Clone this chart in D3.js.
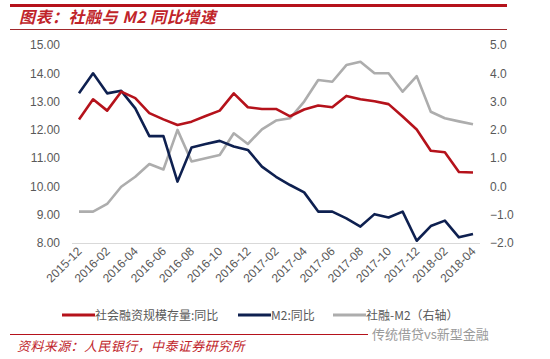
<!DOCTYPE html>
<html><head><meta charset="utf-8">
<script src="https://cdn.jsdelivr.net/npm/d3@7/dist/d3.min.js"></script>
<style>
body{margin:0;background:#fff;}
svg{display:block;}
</style></head>
<body>
<svg id="c" width="550" height="359"></svg>
<script>
const months = ["2015-12","2016-01","2016-02","2016-03","2016-04","2016-05","2016-06","2016-07","2016-08","2016-09","2016-10","2016-11","2016-12",
"2017-01","2017-02","2017-03","2017-04","2017-05","2017-06","2017-07","2017-08","2017-09","2017-10","2017-11","2017-12",
"2018-01","2018-02","2018-03","2018-04"];
const tsfGrowth = [12.37,13.08,12.68,13.35,13.12,12.59,12.37,12.17,12.29,12.49,12.68,13.29,12.80,
12.74,12.74,12.48,12.72,12.86,12.80,13.20,13.08,13.01,12.91,12.47,12.01,11.26,11.21,10.51,10.49];
const m2Growth = [13.29,14.00,13.29,13.38,12.76,11.78,11.78,10.17,11.38,11.50,11.61,11.41,11.29,
10.70,10.34,10.05,9.79,9.11,9.11,8.87,8.58,9.02,8.90,9.11,8.08,8.60,8.79,8.20,8.32];
const spread = [-0.89,-0.89,-0.62,-0.01,0.34,0.79,0.60,2.00,0.88,1.00,1.11,1.88,1.50,
2.02,2.33,2.41,3.00,3.76,3.70,4.29,4.41,4.00,4.00,3.35,3.90,2.64,2.41,2.30,2.20];
const leftTicks = [8,9,10,11,12,13,14,15];
const rightTicks = [-2,-1,0,1,2,3,4,5];
const xTickLabels = months.filter((m,i)=>i%2===0);
const seriesNames = ["社会融资规模存量:同比","M2:同比","社融-M2（右轴）"];
const colors = ["#B5121B","#0E2050","#ADADAD"];

const svg = d3.select("#c");
const numFont = "'Liberation Sans', Arial, sans-serif";
const cjk = "'Noto Sans CJK SC', sans-serif";

// header
svg.append("rect").attr("x",10).attr("y",4).attr("width",497).attr("height",3).attr("fill","#B5121B");
svg.append("text").attr("x",19).attr("y",23).text("图表：社融与 M2 同比增速")
  .attr("font-family",cjk).attr("font-size",16).attr("font-weight","bold").attr("font-style","italic")
  .attr("letter-spacing",0.5).attr("fill","#C0242A");
svg.append("line").attr("x1",10).attr("x2",507).attr("y1",29.5).attr("y2",29.5).attr("stroke","#A0282C").attr("stroke-width",1);

const x = d3.scalePoint().domain(months).range([79,473]);
const yL = d3.scaleLinear().domain([8,15]).range([243,45]);
const yR = d3.scaleLinear().domain([-2,5]).range([243,45]);

// baseline
svg.append("line").attr("x1",72).attr("x2",480).attr("y1",yL(8)+0.5).attr("y2",yL(8)+0.5).attr("stroke","#D9D9D9");

const axL = svg.append("g").attr("transform","translate(66,0)")
  .call(d3.axisLeft(yL).tickValues(leftTicks).tickFormat(d3.format(".2f")).tickSize(0).tickPadding(6));
const axR = svg.append("g").attr("transform","translate(484,0)")
  .call(d3.axisRight(yR).tickValues(rightTicks).tickFormat(d3.format(".1f")).tickSize(0).tickPadding(6));
const axX = svg.append("g").attr("transform",`translate(0,${yL(8)})`)
  .call(d3.axisBottom(x).tickValues(xTickLabels).tickSize(0).tickPadding(0));
[axL,axR,axX].forEach(a=>{a.select(".domain").remove();
  a.selectAll("text").attr("font-family",numFont).attr("font-size",12).attr("fill","#595959");});
axX.selectAll("text").attr("text-anchor","end").attr("dy",0)
  .attr("transform","translate(3,9) rotate(-45)");

const line = (ys,arr)=>d3.line().x((d,i)=>x(months[i])).y(d=>ys(d))(arr);
const paths = [[yL,tsfGrowth],[yL,m2Growth],[yR,spread]];
[2,1,0].forEach(k=>{
  svg.append("path").attr("d",line(paths[k][0],paths[k][1])).attr("fill","none")
    .attr("stroke",colors[k]).attr("stroke-width",2.6).attr("stroke-linejoin","round");
});

// legend
const legX = [62,238,333];
seriesNames.forEach((n,i)=>{
  svg.append("line").attr("x1",legX[i]).attr("x2",legX[i]+33).attr("y1",315).attr("y2",315)
    .attr("stroke",colors[i]).attr("stroke-width",3);
  svg.append("text").attr("x",legX[i]+33).attr("y",319.5).text(n)
    .attr("font-family",cjk).attr("font-size",12).attr("fill","#595959");
});

// footer
svg.append("line").attr("x1",10).attr("x2",368).attr("y1",334.5).attr("y2",334.5).attr("stroke","#B5121B").attr("stroke-width",1.2);
svg.append("text").attr("x",17).attr("y",351).text("资料来源：人民银行，中泰证券研究所")
  .attr("font-family",cjk).attr("font-size",13).attr("font-style","italic").attr("letter-spacing",0.4).attr("fill","#C0242A");
svg.append("text").attr("x",372).attr("y",339).text("传统借贷vs新型金融")
  .attr("font-family",cjk).attr("font-size",13).attr("fill","#9A9A9A");
</script>
</body></html>
